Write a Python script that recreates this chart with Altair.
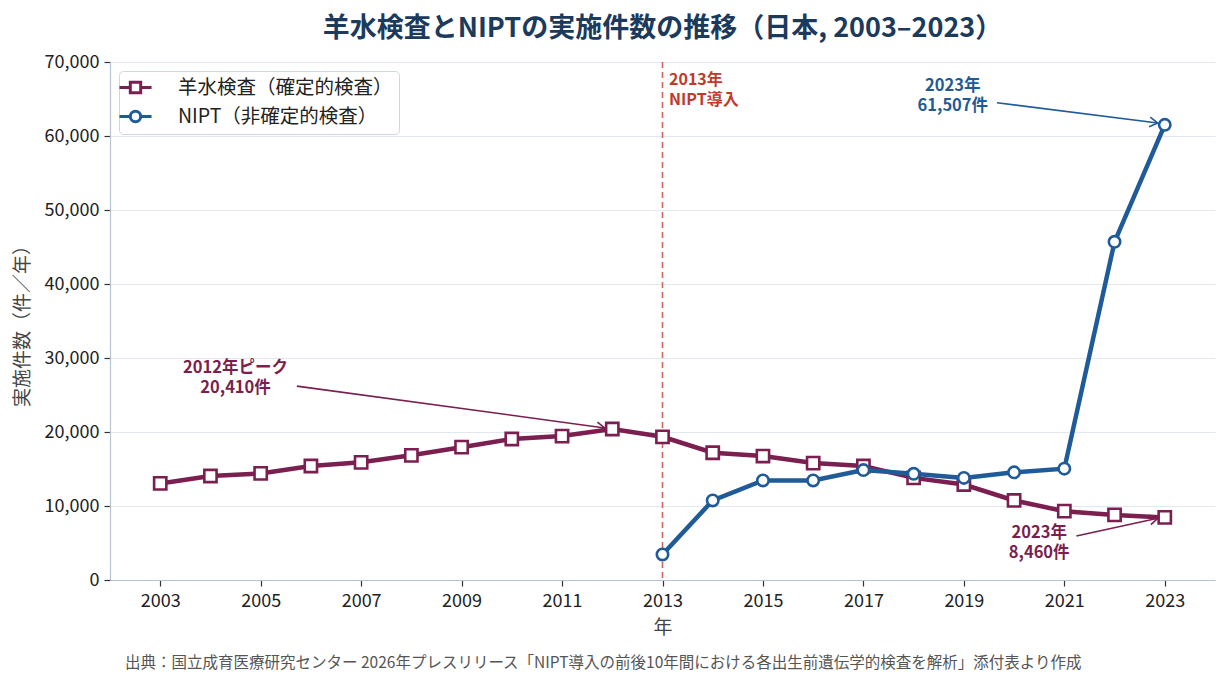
import math
import altair as alt
import pandas as pd

# ---- data ----
years_amnio = list(range(2003, 2024))
amnio = [13050, 14050, 14400, 15400, 15900, 16850, 17950, 19050, 19450, 20410,
         19350, 17200, 16750, 15800, 15400, 13800, 12900, 10750, 9300, 8800, 8460]
years_nipt = list(range(2013, 2024))
nipt = [3450, 10750, 13450, 13450, 14850, 14350, 13800, 14550, 15050, 45700, 61507]

S_AMNIO = "羊水検査（確定的検査）"
S_NIPT = "NIPT（非確定的検査）"
C_AMNIO = "#7a1f50"
C_NIPT = "#1f5b98"
C_RED = "#c0392b"
C_TITLE = "#1b3a5c"

x_ticks = list(range(2003, 2024, 2))
y_ticks = list(range(0, 70001, 10000))

# annotation texts and anchors (data units; y = first text line)
ann_text = ["2012年ピーク\n20,410件", "2023年\n61,507件", "2023年\n8,460件"]
ann_x = [2004.5, 2018.78, 2020.5]
ann_y = [28650, 66760, 6350]
ann_color = [C_AMNIO, C_NIPT, C_AMNIO]
arr_x1 = [2005.72, 2019.66, 2021.24]
arr_y1 = [26200, 64500, 5950]
arr_x2 = [2011.85, 2022.86, 2022.86]
arr_y2 = [20550, 61750, 8350]

intro_year = [2013]
intro_text = ["2013年\nNIPT導入"]
intro_tx = [2013.13]
intro_ty = [67570]

FONT = "Noto Sans CJK JP"
W, H = 1105, 518
XMIN, XMAX = 2002, 2024
YMIN, YMAX = 0, 70000

df = pd.DataFrame(
    {"year": years_amnio + years_nipt,
     "value": amnio + nipt,
     "series": [S_AMNIO] * len(amnio) + [S_NIPT] * len(nipt)}
)

kx = W / (XMAX - XMIN)
ky = H / (YMAX - YMIN)
angles = []
for a, b, c, d in zip(arr_x1, arr_y1, arr_x2, arr_y2):
    ang = math.degrees(math.atan2(-(d - b) * ky, (c - a) * kx))
    angles.append(ang % 360)

ann = pd.DataFrame({"text": ann_text, "x": ann_x, "y": ann_y, "color": ann_color,
                    "x1": arr_x1, "y1": arr_y1, "x2": arr_x2, "y2": arr_y2,
                    "angle": angles})

xs = alt.Scale(domain=[XMIN, XMAX], nice=False, zero=False)
ys = alt.Scale(domain=[YMIN, YMAX], nice=False)

X = alt.X("year:Q", scale=xs, title="年",
          axis=alt.Axis(values=x_ticks, format="d", grid=False, tickSize=6,
                        labelPadding=6, titlePadding=8))
Y = alt.Y("value:Q", scale=ys, title="実施件数（件／年）",
          axis=alt.Axis(values=y_ticks, format=",d", grid=True, tickSize=6,
                        labelPadding=5, titlePadding=12))

base = alt.Chart(df)

def series_layers(name, color, shape, size):
    d = base.transform_filter(alt.datum.series == name)
    line = d.mark_line(color=color, strokeWidth=4.5).encode(x=X, y=Y)
    pts = d.mark_point(shape=shape, size=size, filled=True, fill="white",
                       stroke=color, strokeWidth=2.6, opacity=1).encode(x=X, y=Y)
    return line + pts

# legend symbols: line stub + marker (symbolSize 300 -> 1 unit = 8.66 px)
leg_sq = "M-1.85,0 H-0.6 M0.6,0 H1.85 M-0.6,-0.6 H0.6 V0.6 H-0.6 Z"
leg_ci = "M-1.85,0 H-0.6 M0.6,0 H1.85 M0.6,0 A0.6,0.6 0 1,1 -0.6,0 A0.6,0.6 0 1,1 0.6,0 Z"

legend_layer = base.transform_filter("datum.year < 0").mark_point(
    filled=False, opacity=1).encode(
    x=X, y=Y,
    color=alt.Color("series:N",
                    scale=alt.Scale(domain=[S_AMNIO, S_NIPT], range=[C_AMNIO, C_NIPT]),
                    legend=alt.Legend(title=None, orient="top-left", offset=9,
                                      symbolSize=300, symbolStrokeWidth=3,
                                      symbolFillColor="white", symbolOpacity=1,
                                      labelFont=FONT, labelFontSize=19.5, labelLimit=400,
                                      labelColor="#222222", labelOffset=32,
                                      rowPadding=6, padding=6,
                                      fillColor="white", strokeColor="#cfd6e0",
                                      cornerRadius=4)),
    shape=alt.Shape("series:N",
                    scale=alt.Scale(domain=[S_AMNIO, S_NIPT], range=[leg_sq, leg_ci])),
)

intro_df = pd.DataFrame({"year": intro_year, "text": intro_text,
                         "tx": intro_tx, "ty": intro_ty})
intro_rule = alt.Chart(intro_df).mark_rule(
    color="#d0675e", strokeDash=[6, 4], strokeWidth=1.6).encode(x=alt.X("year:Q", scale=xs))
intro_lbl = alt.Chart(intro_df).mark_text(
    align="left", baseline="middle", font=FONT, fontSize=16, fontWeight="bold",
    color=C_RED, lineHeight=20, lineBreak="\n").encode(
    x=alt.X("tx:Q", scale=xs), y=alt.Y("ty:Q", scale=ys), text="text:N")

ann_base = alt.Chart(ann)
ann_txt = ann_base.mark_text(align="center", baseline="middle", font=FONT,
                             fontSize=16.5, fontWeight="bold", lineHeight=20,
                             lineBreak="\n").encode(
    x=alt.X("x:Q", scale=xs), y=alt.Y("y:Q", scale=ys), text="text:N",
    color=alt.Color("color:N", scale=None))
ann_line = ann_base.mark_rule(strokeWidth=1.6).encode(
    x=alt.X("x1:Q", scale=xs), y=alt.Y("y1:Q", scale=ys),
    x2="x2:Q", y2="y2:Q", color=alt.Color("color:N", scale=None))
ann_head = ann_base.mark_point(shape="M-1,-0.6 L0,0 L-1,0.6", size=260, filled=False,
                               strokeWidth=1.6, opacity=1).encode(
    x=alt.X("x2:Q", scale=xs), y=alt.Y("y2:Q", scale=ys),
    angle=alt.Angle("angle:Q", scale=None),
    color=alt.Color("color:N", scale=None))

source = alt.Chart(pd.DataFrame({"t": ["出典：国立成育医療研究センター 2026年プレスリリース「NIPT導入の前後10年間における各出生前遺伝学的検査を解析」添付表より作成"]})).mark_text(
    align="left", baseline="middle", font=FONT, fontSize=15.5, color="#555555").encode(
    x=alt.value(15), y=alt.value(601), text="t:N")

chart = alt.layer(
    intro_rule,
    series_layers(S_AMNIO, C_AMNIO, "square", 150),
    series_layers(S_NIPT, C_NIPT, "circle", 130),
    legend_layer,
    intro_lbl, ann_line, ann_head, ann_txt, source,
).properties(
    width=W, height=H,
    title=alt.TitleParams("羊水検査とNIPTの実施件数の推移（日本, 2003–2023）",
                          font=FONT, fontSize=27, fontWeight="bold", color=C_TITLE,
                          anchor="middle", frame="group", offset=10),
    autosize=alt.AutoSizeParams(type="none"),
    padding={"left": 102, "top": 54, "right": 5, "bottom": 98},
).configure_view(stroke=None).configure_axis(
    labelFont=FONT, labelFontSize=18, labelColor="#222222",
    titleFont=FONT, titleFontSize=19, titleColor="#444444", titleFontWeight="normal",
    domainColor="#b8c4d4", domainWidth=1.2, tickColor="#333333", tickWidth=1.2,
    gridColor="#e3e8f0", gridWidth=1.2,
).configure_axisY(domainColor="#b8c4d4")

chart.save("out.html", embed_options={"renderer": "svg", "actions": False})
